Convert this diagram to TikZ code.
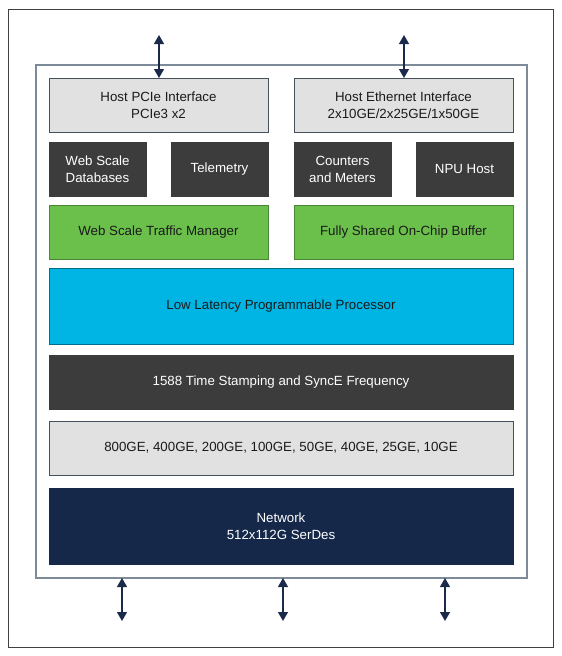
\documentclass[tikz,border=0pt]{standalone}
\usepackage{fontspec}
\setmainfont{Liberation Sans}
\usetikzlibrary{arrows.meta}
\definecolor{lgray}{HTML}{E1E1E1}
\definecolor{edgeg}{HTML}{45505C}
\definecolor{darkbox}{HTML}{3C3C3C}
\definecolor{greenbox}{HTML}{6BBF4B}
\definecolor{cyanbox}{HTML}{00B5E4}
\definecolor{navybox}{HTML}{15284A}
\definecolor{arrowc}{HTML}{1B2A4A}
\definecolor{innerc}{HTML}{7D8A98}
\definecolor{txt}{HTML}{1A1A1A}
\begin{document}
\begin{tikzpicture}[x=1pt,y=-1pt,
  blk/.style={rectangle, inner sep=0pt, outer sep=0pt, align=center,
    font=\fontsize{13.3}{17}\selectfont, line width=0.8pt},
  lightbox/.style={blk, fill=lgray, draw=edgeg, text=txt},
  darkb/.style={blk, fill=darkbox, draw=darkbox, text=white},
  greenb/.style={blk, fill=greenbox, draw=greenbox!70!black, text=txt},
  cyanb/.style={blk, fill=cyanbox, draw=cyanbox!60!black, text=txt},
  navyb/.style={blk, fill=navybox, draw=navybox, text=white},
  dblarrow/.style={draw=arrowc, line width=1.3pt,
    {Triangle[width=10pt,length=9pt]}-{Triangle[width=10pt,length=9pt]}}
]
\useasboundingbox (0,0) rectangle (562,656);
\draw[line width=1pt, draw=black!75] (8,9) rectangle (553,647);
\node[draw=innerc, line width=1.4pt, inner sep=0pt, outer sep=0pt,
  minimum width=491pt, minimum height=513pt] (chip) at (281.5,321.5) {};

\node[lightbox, minimum width=219pt, minimum height=54pt] (pcie) at (158.5,105) {Host PCIe Interface\\PCIe3 x2};
\node[lightbox, minimum width=219pt, minimum height=54pt] (eth) at (403.5,105) {Host Ethernet Interface\\2x10GE/2x25GE/1x50GE};

\node[darkb, minimum width=97pt, minimum height=54pt] (db) at (97.5,169) {Web Scale\\Databases};
\node[darkb, minimum width=97pt, minimum height=54pt] (tel) at (219.5,169) {Telemetry};
\node[darkb, minimum width=97pt, minimum height=54pt] (cnt) at (342.5,169) {Counters\\and Meters};
\node[darkb, minimum width=97pt, minimum height=54pt] (npu) at (464.5,169) {NPU Host};

\node[greenb, minimum width=219pt, minimum height=54pt] (tm) at (158.5,232) {Web Scale Traffic Manager};
\node[greenb, minimum width=219pt, minimum height=54pt] (buf) at (403.5,232) {Fully Shared On-Chip Buffer};

\node[cyanb, minimum width=464pt, minimum height=76pt] (proc) at (281,306) {Low Latency Programmable Processor};
\node[darkb, minimum width=464pt, minimum height=54pt] (ts) at (281,382) {1588 Time Stamping and SyncE Frequency};
\node[lightbox, minimum width=464pt, minimum height=54pt] (ge) at (281,448) {800GE, 400GE, 200GE, 100GE, 50GE, 40GE, 25GE, 10GE};
\node[navyb, minimum width=464pt, minimum height=76pt] (net) at (281,526) {Network\\512x112G SerDes};

\coordinate (t1) at (159,35);
\coordinate (t2) at (404,35);
\draw[dblarrow] (t1) -- (t1 |- pcie.north);
\draw[dblarrow] (t2) -- (t2 |- eth.north);

\coordinate (b1) at (122,621);
\coordinate (b2) at (283,621);
\coordinate (b3) at (445,621);
\draw[dblarrow] (b1 |- chip.south) -- (b1);
\draw[dblarrow] (b2 |- chip.south) -- (b2);
\draw[dblarrow] (b3 |- chip.south) -- (b3);
\end{tikzpicture}
\end{document}
